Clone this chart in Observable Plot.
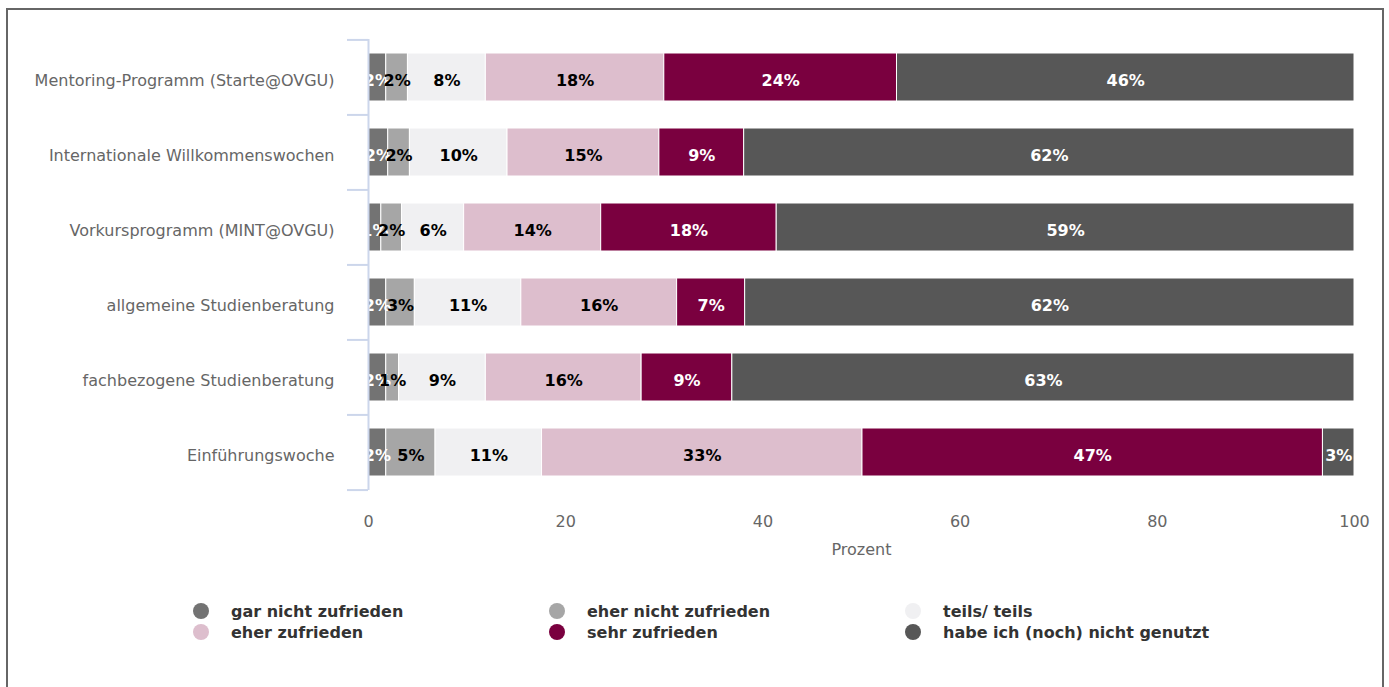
<!DOCTYPE html>
<html>
<head>
<meta charset="utf-8">
<script src="https://cdn.jsdelivr.net/npm/d3@7"></script>
<script src="https://cdn.jsdelivr.net/npm/@observablehq/plot@0.6"></script>
<style>
  html, body { margin: 0; padding: 0; background: #fff; }
  body { width: 1389px; height: 687px; overflow: hidden; position: relative; font-family: "DejaVu Sans", sans-serif; }
  #frame { position: absolute; left: 6px; top: 8px; width: 1378px; height: 720px; border: 2px solid #666; pointer-events: none; box-sizing: border-box; }
  #chart { position: absolute; left: 0; top: 0; }
  #legend { position: absolute; left: 193px; top: 602px; display: grid; grid-template-columns: 356px 356px 356px; row-gap: 3px; }
  .item { display: flex; align-items: center; height: 18px; font-weight: bold; font-size: 16px; color: #333; }
  .dot { width: 16px; height: 16px; border-radius: 50%; margin-right: 22px; }
</style>
</head>
<body>
<div id="chart"></div>
<div id="legend"></div>
<div id="frame"></div>
<script>
const programs = [
  "Mentoring-Programm (Starte@OVGU)",
  "Internationale Willkommenswochen",
  "Vorkursprogramm (MINT@OVGU)",
  "allgemeine Studienberatung",
  "fachbezogene Studienberatung",
  "Einführungswoche"
];
const categories = [
  "gar nicht zufrieden",
  "eher nicht zufrieden",
  "teils/ teils",
  "eher zufrieden",
  "sehr zufrieden",
  "habe ich (noch) nicht genutzt"
];
const colors = ["#737373", "#a6a6a6", "#f0f0f2", "#ddbecd", "#7a003f", "#575757"];
const labelColors = ["#fff", "#000", "#000", "#000", "#fff", "#fff"];

// values in percent, one array per category (order follows programs)
const garNicht   = [1.8, 2.0, 1.3, 1.8, 1.8, 1.8];
const eherNicht  = [2.2, 2.2, 2.1, 2.9, 1.3, 5.0];
const teils      = [7.9, 9.9, 6.3, 10.8, 8.8, 10.8];
const eherZufr   = [18.1, 15.4, 13.9, 15.8, 15.8, 32.5];
const sehrZufr   = [23.6, 8.6, 17.8, 6.9, 9.2, 46.7];
const nichtGenutzt = [46.4, 61.9, 58.6, 61.8, 63.1, 3.2];
const series = [garNicht, eherNicht, teils, eherZufr, sehrZufr, nichtGenutzt];
const xTicks = [0, 20, 40, 60, 80, 100];

const data = [];
programs.forEach((p, i) => {
  categories.forEach((c, j) => {
    data.push({program: p, category: c, value: series[j][i], ci: j});
  });
});

const W = 1389, H = 575, mTop = 39, mBottom = H - 490, mLeft = 368, mRight = W - 1354;
const step = (H - mTop - mBottom) / programs.length;

const chart = Plot.plot({
  width: W,
  height: H,
  marginTop: mTop,
  marginBottom: mBottom,
  marginLeft: mLeft,
  marginRight: mRight,
  style: {fontFamily: "'DejaVu Sans', sans-serif", fontSize: "16px", background: "transparent"},
  x: {domain: [0, 100]},
  y: {domain: programs, paddingInner: 0.36, paddingOuter: 0.18},
  color: {domain: categories, range: colors},
  marks: [
    Plot.axisY({tickSize: 0, tickPadding: 34, fill: "#666", fontSize: 16, label: null, dy: 3}),
    Plot.axisX({ticks: xTicks, tickSize: 0, tickPadding: 25, fill: "#666", fontSize: 16,
      label: "Prozent", labelAnchor: "center", labelOffset: 64, labelArrow: "none"}),
    Plot.barX(data, Plot.stackX({x: "value", y: "program", fill: "category", stroke: "#fff", strokeWidth: 1})),
    Plot.text(data, Plot.stackX({
      x: "value", y: "program",
      text: d => Math.round(d.value) + "%",
      fill: d => labelColors[d.ci],
      fontWeight: "bold", fontSize: 16, dy: 3
    })),
    Plot.ruleX([0], {stroke: "#ccd6eb", strokeWidth: 2}),
    Plot.ruleY(programs, {y: d => d, x1: 0, x2: 0, insetLeft: -21, dy: -step / 2, stroke: "#ccd6eb", strokeWidth: 2}),
    Plot.ruleY(programs.slice(-1), {y: d => d, x1: 0, x2: 0, insetLeft: -21, dy: step / 2, stroke: "#ccd6eb", strokeWidth: 2})
  ]
});
document.getElementById("chart").appendChild(chart);

const legend = document.getElementById("legend");
categories.forEach((c, j) => {
  const item = document.createElement("div");
  item.className = "item";
  const dot = document.createElement("span");
  dot.className = "dot";
  dot.style.background = colors[j];
  const t = document.createElement("span");
  t.textContent = c;
  item.appendChild(dot);
  item.appendChild(t);
  legend.appendChild(item);
});
</script>
</body>
</html>
